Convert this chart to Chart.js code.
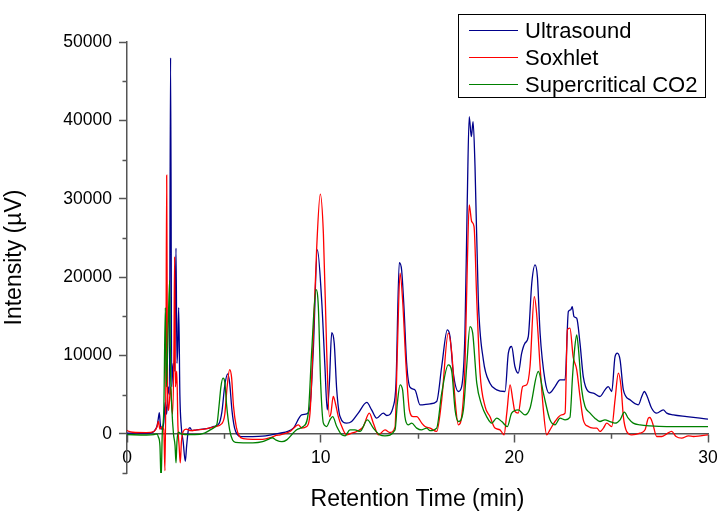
<!DOCTYPE html>
<html>
<head>
<meta charset="utf-8">
<script src="https://cdn.jsdelivr.net/npm/chart.js@4.4.1/dist/chart.umd.min.js"></script>
<style>
  html, body { margin: 0; padding: 0; background: #ffffff; }
  canvas { display: block; }
</style>
</head>
<body>
<canvas id="chart" width="718" height="514"></canvas>
<script>
// Series names (legend order)
const seriesNames = ['Ultrasound', 'Soxhlet', 'Supercritical CO2'];

// Ultrasound extraction chromatogram: retention time (min) / intensity (µV)
const ultrasoundTime = [0, 0.5, 1.0, 1.3, 1.45, 1.55, 1.62, 1.67, 1.72, 1.8, 1.9, 1.97, 2.05, 2.12, 2.19, 2.25, 2.31, 2.38, 2.45, 2.53, 2.58, 2.62, 2.67, 2.73, 2.8, 2.9, 3.01, 3.08, 3.17, 3.25, 3.35, 3.6, 3.9, 4.2, 4.5, 4.75, 4.9, 5.05, 5.2, 5.3, 5.42, 5.55, 5.7, 5.9, 6.5, 7.0, 7.5, 7.9, 8.3, 8.59, 9.02, 9.28, 9.45, 9.62, 9.83, 10.05, 10.22, 10.34, 10.45, 10.57, 10.7, 10.83, 11.0, 11.34, 11.6, 11.94, 12.38, 12.63, 12.89, 13.23, 13.41, 13.75, 13.89, 14.06, 14.18, 14.3, 14.44, 14.61, 14.87, 15.13, 15.65, 15.99, 16.25, 16.54, 16.68, 16.85, 17.11, 17.28, 17.45, 17.57, 17.67, 17.78, 17.87, 17.97, 18.14, 18.4, 18.74, 19.09, 19.52, 19.69, 19.86, 20.03, 20.2, 20.38, 20.55, 20.72, 20.9, 21.07, 21.19, 21.33, 21.58, 21.8, 22.1, 22.36, 22.62, 22.79, 22.91, 22.99, 23.08, 23.22, 23.39, 23.56, 23.82, 24.08, 24.42, 24.68, 24.85, 25.03, 25.2, 25.32, 25.46, 25.63, 25.97, 26.4, 26.58, 26.71, 26.86, 27.09, 27.35, 27.69, 27.87, 28.21, 28.9, 29.59, 30];
const ultrasoundSignal = [100, 80, 60, 150, 500, 1000, 2000, 2700, 1200, 600, 1500, 4000, 2500, 6000, 5000, 48000, 6000, 9000, 8000, 23700, 9000, 11000, 16100, 5000, 1000, -1000, -3500, -1500, 500, 800, 400, 500, 600, 700, 950, 1300, 2800, 6200, 7650, 6500, 3000, 800, -100, -350, -350, -300, -100, 85, 300, 730, 2420, 2550, 3500, 10700, 23500, 17100, 8600, 3060, 6460, 12900, 11570, 5600, 2200, 1360, 1570, 2640, 4000, 3060, 2000, 2640, 2340, 3500, 6460, 21850, 20900, 16200, 9000, 5950, 5600, 3700, 3830, 4120, 8590, 13270, 12400, 7740, 5400, 6030, 12840, 29850, 40470, 37920, 39830, 34090, 17090, 9440, 6460, 5610, 5400, 10290, 11140, 8590, 7740, 10290, 11570, 12400, 19220, 21560, 20060, 12840, 6890, 5190, 6030, 6890, 6890, 15600, 15820, 16240, 14960, 14750, 11570, 7310, 5400, 5190, 4760, 5610, 6030, 5400, 9860, 10290, 9440, 5610, 4340, 3700, 4760, 5400, 4760, 3270, 2640, 3060, 2640, 2420, 2200, 2000, 1870];

// Soxhlet extraction chromatogram
const soxhletTime = [0, 0.1, 0.3, 1.0, 1.4, 1.55, 1.62, 1.7, 1.8, 1.9, 1.96, 2.01, 2.05, 2.09, 2.15, 2.25, 2.35, 2.42, 2.46, 2.5, 2.57, 2.63, 2.69, 2.75, 2.81, 2.9, 3.05, 3.3, 3.6, 4.0, 4.5, 4.9, 5.05, 5.17, 5.3, 5.4, 5.5, 5.65, 5.8, 6.0, 6.5, 7.0, 7.4, 7.7, 7.9, 8.42, 8.85, 9.02, 9.28, 9.45, 9.62, 9.79, 9.98, 10.14, 10.31, 10.45, 10.53, 10.65, 10.76, 10.91, 11.09, 11.34, 11.6, 11.86, 12.2, 12.51, 12.72, 12.98, 13.32, 13.58, 13.84, 13.96, 14.1, 14.23, 14.41, 14.58, 14.78, 14.96, 15.22, 15.39, 15.65, 15.99, 16.25, 16.59, 16.77, 16.94, 17.11, 17.28, 17.45, 17.57, 17.67, 17.8, 17.92, 18.06, 18.23, 18.49, 18.74, 19.0, 19.26, 19.47, 19.61, 19.78, 19.92, 20.03, 20.2, 20.43, 20.64, 20.81, 21.03, 21.15, 21.33, 21.5, 21.67, 21.84, 22.1, 22.44, 22.62, 22.74, 22.87, 23.04, 23.22, 23.39, 23.56, 23.82, 24.08, 24.26, 24.42, 24.6, 24.77, 25.03, 25.2, 25.37, 25.51, 25.63, 25.8, 26.06, 26.49, 26.75, 26.92, 27.0, 27.14, 27.35, 27.61, 27.87, 28.12, 28.35, 28.64, 28.99, 29.25, 29.6, 30];
const soxhletSignal = [450, 300, 200, 150, 300, 900, 1570, 600, 900, 500, -4700, 8000, 33000, 6000, 3000, 6000, 2500, 10000, 22600, 6000, 8000, 1000, -1500, -3700, -1000, 300, 600, 400, 500, 600, 900, 1300, 2500, 6000, 8200, 7200, 3500, 800, -300, -600, -700, -700, -500, -200, -130, 300, 1150, 730, 930, 2640, 12400, 23470, 30600, 25600, 10700, 2200, 2640, 4760, 3900, 2200, 930, -130, 85, 300, 930, 2640, 1360, -130, 510, 170, 850, 10700, 20500, 17100, 8600, 3060, 2200, 2200, 1360, 930, 730, 300, 4340, 12840, 10290, 4340, 1150, 2200, 8590, 21340, 29210, 27080, 26440, 17090, 7740, 3480, 2200, 730, 510, -130, 2640, 6250, 4340, 2850, 2640, 6030, 6250, 8590, 17510, 15390, 8590, 3060, -130, 510, 1570, 2420, 2640, 13270, 13480, 9800, 8200, 4760, 1790, 930, 730, 730, 300, 730, 1360, 930, 4340, 7740, 6030, 2200, 300, -130, 85, 510, 2000, 2080, 1360, -340, -340, 0, 300, -340, -550, -250, -340, -250, -130];

// Supercritical CO2 extraction chromatogram
const supercriticalTime = [0, 1.0, 1.4, 1.55, 1.62, 1.7, 1.76, 1.82, 1.9, 1.98, 2.03, 2.1, 2.2, 2.25, 2.32, 2.4, 2.48, 2.53, 2.58, 2.65, 2.8, 3.0, 3.5, 4.0, 4.3, 4.55, 4.65, 4.75, 4.85, 4.96, 5.05, 5.15, 5.3, 5.45, 5.6, 6.0, 6.5, 7.0, 7.3, 7.5, 7.7, 8.0, 8.25, 8.76, 9.1, 9.36, 9.54, 9.76, 9.88, 10.0, 10.14, 10.31, 10.48, 10.62, 10.83, 11.09, 11.26, 11.51, 11.77, 12.03, 12.41, 12.72, 13.06, 13.32, 13.84, 13.96, 14.1, 14.23, 14.35, 14.52, 14.7, 14.96, 15.2, 15.47, 15.65, 15.99, 16.25, 16.59, 16.77, 16.94, 17.11, 17.37, 17.54, 17.71, 17.85, 18.06, 18.31, 18.57, 18.83, 19.09, 19.35, 19.64, 19.86, 20.2, 20.55, 20.81, 21.24, 21.5, 21.84, 22.1, 22.36, 22.62, 22.87, 23.01, 23.12, 23.22, 23.3, 23.48, 23.65, 23.91, 24.16, 24.42, 24.68, 24.94, 25.2, 25.46, 25.68, 25.88, 26.14, 26.49, 27.0, 27.87, 30];
const supercriticalSignal = [-100, -150, -100, 0, -400, -1500, -6000, 0, 3000, 16100, 6000, 10700, 19600, 8000, 3000, 0, -1500, -3700, -1000, 200, 0, -100, -100, 100, 500, 900, 1300, 3500, 6000, 7100, 6600, 3500, 500, -800, -1100, -1150, -1150, -1000, -700, -500, -800, -1000, -770, 510, 930, 2640, 10700, 18400, 16200, 6460, 1360, 930, 1790, 2200, 930, -130, -250, 500, 500, 300, 1790, 730, -130, -250, 500, 3900, 6250, 5600, 2200, 1150, 1360, 730, 510, 730, 400, 730, 5190, 8800, 7950, 3060, 1570, 3060, 8590, 13690, 12840, 6460, 3700, 2200, 1360, 2000, 1570, 930, 2640, 3060, 2420, 3270, 7950, 5190, 1790, 1150, 2000, 1790, 2100, 7500, 11000, 12630, 11140, 5610, 3480, 2640, 2000, 1570, 1790, 1570, 1360, 1790, 2770, 2000, 1360, 1150, 1020, 930, 930];

// Axis ranges and ticks
const xRange = [0, 30];
const yRange = [-5000, 50000];
const xTickStep = 5;
const yTickStep = 5000;
const xLabelledTicks = [0, 10, 20, 30];
const yLabelledTicks = [0, 10000, 20000, 30000, 40000, 50000];

const lineColors = ['#00008b', '#ff0000', '#008000'];
const AXIS_COLOR = '#555555';
const FONT = '"Liberation Sans", Arial, Helvetica, sans-serif';

function toPoints(times, values) {
  return times.map((t, i) => ({ x: t, y: values[i] }));
}

// Short outward minor ticks on both axes
const minorTicks = {
  id: 'minorTicks',
  beforeDatasetsDraw(chart) {
    const { ctx, chartArea, scales: { x, y } } = chart;
    const y0 = y.getPixelForValue(0);
    ctx.save();
    ctx.strokeStyle = AXIS_COLOR;
    ctx.lineWidth = 1.5;
    ctx.beginPath();
    x.ticks.forEach(t => {
      if (!xLabelledTicks.includes(t.value)) {
        const px = Math.round(x.getPixelForValue(t.value)) + 0.5;
        ctx.moveTo(px, y0);
        ctx.lineTo(px, y0 + 5);
      }
    });
    y.ticks.forEach(t => {
      if (!yLabelledTicks.includes(t.value)) {
        const py = Math.round(y.getPixelForValue(t.value)) + 0.5;
        ctx.moveTo(chartArea.left - 4.5, py);
        ctx.lineTo(chartArea.left, py);
      }
    });
    ctx.stroke();
    ctx.restore();
  }
};

// Boxed legend in the upper right corner
const boxedLegend = {
  id: 'boxedLegend',
  afterDraw(chart) {
    const { ctx } = chart;
    const box = { left: 458.5, top: 14.5, right: 705.5, bottom: 97.5 };
    const rows = [30, 57, 84];
    ctx.save();
    ctx.fillStyle = '#ffffff';
    ctx.fillRect(box.left, box.top, box.right - box.left, box.bottom - box.top);
    ctx.strokeStyle = '#000000';
    ctx.lineWidth = 1;
    ctx.strokeRect(box.left, box.top, box.right - box.left, box.bottom - box.top);
    ctx.font = '22px ' + FONT;
    ctx.textBaseline = 'middle';
    ctx.textAlign = 'left';
    chart.data.datasets.forEach((ds, i) => {
      const yRow = rows[i];
      ctx.strokeStyle = ds.borderColor;
      ctx.lineWidth = 1.2;
      ctx.beginPath();
      ctx.moveTo(469, yRow + 0.5);
      ctx.lineTo(518, yRow + 0.5);
      ctx.stroke();
      ctx.fillStyle = '#000000';
      ctx.fillText(ds.label, 525, yRow + 1.5);
    });
    ctx.restore();
  }
};

const series = [
  { label: seriesNames[0], data: toPoints(ultrasoundTime, ultrasoundSignal), borderColor: lineColors[0], order: 2 },
  { label: seriesNames[1], data: toPoints(soxhletTime, soxhletSignal), borderColor: lineColors[1], order: 1 },
  { label: seriesNames[2], data: toPoints(supercriticalTime, supercriticalSignal), borderColor: lineColors[2], order: 0 }
];

new Chart(document.getElementById('chart'), {
  type: 'line',
  data: {
    datasets: series.map(s => Object.assign({
      fill: false,
      borderWidth: 1.3,
      pointRadius: 0,
      cubicInterpolationMode: 'monotone'
    }, s))
  },
  options: {
    responsive: false,
    animation: false,
    devicePixelRatio: 1,
    layout: { padding: { left: 0, top: 42, right: 10, bottom: 41 } },
    plugins: {
      legend: { display: false },
      tooltip: { enabled: false }
    },
    scales: {
      x: {
        type: 'linear',
        position: { y: 0 },
        min: xRange[0],
        max: xRange[1],
        // keep the end labels from pushing the plot area inwards
        afterFit: scale => { scale.paddingLeft = 0; scale.paddingRight = 0; },
        ticks: {
          stepSize: xTickStep,
          autoSkip: false,
          maxRotation: 0,
          padding: 6,
          color: '#000000',
          font: { family: FONT, size: 17.5 },
          callback: v => xLabelledTicks.includes(v) ? String(v) : ''
        },
        grid: {
          drawOnChartArea: false,
          drawTicks: true,
          tickLength: 8,
          tickWidth: 1.5,
          tickColor: c => (c.tick && xLabelledTicks.includes(c.tick.value)) ? AXIS_COLOR : 'rgba(0,0,0,0)'
        },
        border: { display: true, color: AXIS_COLOR, width: 1.5 },
        title: {
          display: true,
          text: 'Retention Time (min)',
          color: '#000000',
          font: { family: FONT, size: 23 },
          padding: { top: 11, bottom: 0 }
        }
      },
      y: {
        type: 'linear',
        position: 'left',
        min: yRange[0],
        max: yRange[1],
        afterFit: scale => { scale.width = 127; },
        ticks: {
          stepSize: yTickStep,
          autoSkip: false,
          padding: 7,
          color: '#000000',
          font: { family: FONT, size: 17.5 },
          callback: v => yLabelledTicks.includes(v) ? String(v) : ''
        },
        grid: {
          drawOnChartArea: false,
          drawTicks: true,
          tickLength: 8,
          tickWidth: 1.5,
          tickColor: c => (c.tick && yLabelledTicks.includes(c.tick.value)) ? AXIS_COLOR : 'rgba(0,0,0,0)'
        },
        border: { display: true, color: AXIS_COLOR, width: 1.5 },
        title: {
          display: true,
          text: 'Intensity (µV)',
          color: '#000000',
          font: { family: FONT, size: 23 },
          padding: { top: 1, bottom: 0 }
        }
      }
    }
  },
  plugins: [minorTicks, boxedLegend]
});
</script>
</body>
</html>
